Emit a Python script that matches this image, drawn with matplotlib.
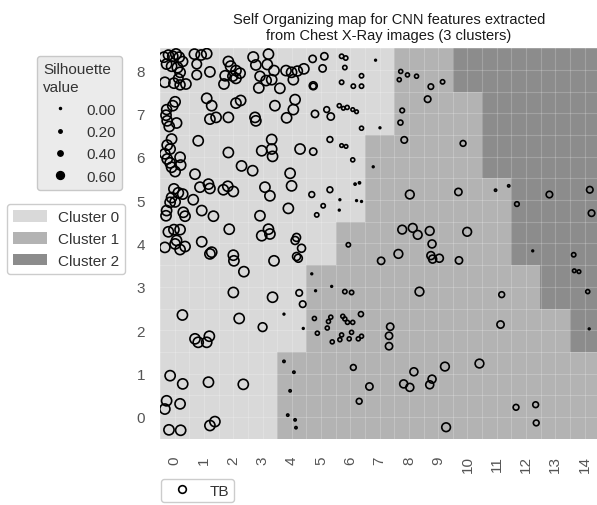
import numpy as np
import matplotlib
matplotlib.use("Agg")
import matplotlib.pyplot as plt
from matplotlib.colors import ListedColormap
from matplotlib.lines import Line2D
from matplotlib.patches import Patch

plt.rcParams['font.family'] = ['Liberation Sans', 'DejaVu Sans']

# cluster assigned to each SOM node, first row is y=0 (bottom), columns x=0..14
cluster_grid = [
    [0, 0, 0, 0, 1, 1, 1, 1, 1, 1, 1, 1, 1, 1, 1],
    [0, 0, 0, 0, 1, 1, 1, 1, 1, 1, 1, 1, 1, 1, 1],
    [0, 0, 0, 0, 0, 1, 1, 1, 1, 1, 1, 1, 1, 1, 2],
    [0, 0, 0, 0, 0, 1, 1, 1, 1, 1, 1, 1, 1, 2, 2],
    [0, 0, 0, 0, 0, 0, 1, 1, 1, 1, 1, 1, 2, 2, 2],
    [0, 0, 0, 0, 0, 0, 0, 1, 1, 1, 1, 1, 2, 2, 2],
    [0, 0, 0, 0, 0, 0, 0, 1, 1, 1, 1, 2, 2, 2, 2],
    [0, 0, 0, 0, 0, 0, 0, 0, 1, 1, 1, 2, 2, 2, 2],
    [0, 0, 0, 0, 0, 0, 0, 0, 1, 1, 2, 2, 2, 2, 2],
]
cluster_names = ['Cluster 0', 'Cluster 1', 'Cluster 2']
cluster_colors = ['#d9d9d9', '#b3b3b3', '#8c8c8c']

# jittered SOM coordinates of every TB image and its silhouette value
som_x = (
    [-0.37, -0.22, -0.07, 0.04, 0.15, 0.27, -0.28, -0.11, 0.09, 0.18, 0.12, -0.34, -0.03, 0.18, 0.38]
    + [0.67, 0.90, 1.09, 0.75, 0.75, 1.20, 1.83, 1.91, 2.09, 2.23, 1.72, 1.98, 2.09, 1.68]
    + [2.68, 3.20, 2.77, 3.16, 3.39, 2.91, 3.12, 3.31, 2.87, 3.59, 3.80, 3.99, 4.19, 4.41, 4.05]
    + [4.71, 5.11, 5.05, 4.73, 4.73, 5.70, 5.84, 5.81, 6.38, 5.70, 6.10, 6.38]
    + [0.01, -0.07, -0.28, -0.30, -0.26, 0.06, -0.19, 1.09, 1.26, 1.20, 1.41, 1.83, 2.09, 2.25, 2.74,
       2.77, 3.42, 3.82, 4.05, 4.11, 4.79, 5.19, 5.33, 5.62, 5.76, 5.89, 6.08, 6.21, 6.38]
    + [-0.11, -0.26, -0.16, -0.34, -0.26, -0.16, -0.11, 0.01, 0.18, 0.20, 0.80, 1.83, 2.97, 3.31,
       3.31, 3.34, 4.28, 4.73, 5.30, 5.70, 5.85, 6.08, 2.28, 2.66, 0.69, 3.94, 6.78]
    + [-0.03, 0.12, 0.27, -0.11, -0.16, 0.01, -0.28, -0.30, 0.86, 1.15, 1.20, 1.66, 1.81, 2.00, 0.63,
       0.92, 0.29, 0.35, 1.32, 3.08, 3.25, 3.99, 3.88, 4.68, 5.30, 5.07, 4.85, 5.64, 5.62, 6.21,
       6.38, 6.16, 6.31, 2.91]
    + [-0.22, -0.03, 0.18, 1.86, 3.20, 2.97, 3.25, -0.34, 0.01, 0.18, 0.35, 0.06, 0.92, 1.20, 1.26,
       2.00, 2.02, 2.36]
    + [4.16, 4.11, 4.33, 4.16, 4.22, 3.39, 2.00, 3.34, 4.25, 4.37, 5.93, 4.68, 4.81, 5.36, 5.81,
       6.04, 0.26, 2.20, 3.00, 3.73, 4.39]
    + [4.77, 5.33, 5.25, 5.21, 4.87, 5.74, 5.81, 5.90, 6.08, 6.36, 5.70, 6.04, 5.64, 5.96, 6.27,
       6.38, 5.38]
    + [0.69, 0.80, 1.09, 1.18, 3.73, 4.07, 3.94, 3.86, 4.11, 4.14, 6.10, 6.65, 6.30, -0.16, 0.27,
       1.15, 2.34, -0.28, -0.34, 0.18, 1.20, 1.37, -0.20, 0.20]
    + [6.86, 7.72, 7.95, 8.26, 7.67, 8.75, 9.15, 8.64, 7.77, 7.71, 7.01, 7.84, 9.85, 8.03, 9.69,
       10.96, 11.41, 11.69, 12.80, 14.18, 14.24, 7.77, 8.13, 8.30, 8.71, 9.99]
    + [8.79, 7.64, 7.05, 8.75, 8.81, 9.04, 9.71, 12.23, 13.63, 13.65, 13.81, 8.36, 11.17, 14.11, 7.36,
       7.32, 7.32, 11.13, 14.16, 8.17, 9.23, 10.41, 7.82, 8.03, 8.71, 8.79, 11.66, 12.33, 12.35, 9.27]
)
som_y = (
    [8.30, 8.35, 8.32, 8.37, 8.30, 8.20, 8.14, 8.09, 8.06, 7.95, 7.81, 7.72, 7.70, 7.66, 7.68]
    + [8.37, 8.35, 8.38, 8.14, 7.89, 7.96, 8.20, 8.09, 7.99, 7.93, 7.87, 7.86, 7.81, 7.68]
    + [8.30, 8.37, 8.12, 8.13, 7.99, 7.86, 7.76, 7.78, 7.59, 7.58, 7.99, 7.95, 7.98, 8.03, 7.78]
    + [8.26, 8.32, 8.04, 7.64, 7.63, 8.32, 8.28, 8.06, 7.87, 7.72, 7.63, 7.63]
    + [7.27, 7.18, 7.09, 6.96, 6.83, 6.78, 6.70, 7.35, 7.18, 6.87, 6.91, 6.91, 7.24, 7.30, 6.91,
       6.83, 7.18, 6.90, 7.09, 7.32, 6.99, 7.09, 6.93, 7.18, 7.12, 7.14, 7.09, 7.04, 6.66]
    + [6.41, 6.27, 6.18, 6.07, 5.95, 5.86, 5.76, 5.66, 5.99, 5.81, 6.37, 6.10, 6.14, 6.40,
       6.18, 6.01, 6.18, 6.12, 6.40, 6.26, 6.24, 5.93, 5.79, 5.68, 5.60, 5.62, 5.77]
    + [5.26, 5.17, 5.14, 5.06, 4.95, 4.96, 4.76, 4.64, 5.30, 5.37, 5.27, 5.24, 5.32, 5.20, 5.01,
       4.76, 4.72, 4.63, 4.63, 5.30, 5.10, 5.33, 4.81, 5.13, 5.24, 4.87, 4.66, 5.01, 4.77, 4.99,
       4.97, 5.37, 5.40, 4.64]
    + [4.27, 4.32, 4.32, 4.33, 4.33, 4.18, 4.22, 3.91, 3.99, 3.86, 3.93, 4.07, 4.04, 3.76, 3.80,
       3.73, 3.60, 3.35]
    + [4.14, 4.07, 3.89, 3.70, 3.66, 3.60, 2.87, 2.76, 2.86, 2.60, 3.97, 3.30, 2.91, 3.01, 2.89,
       2.87, 2.35, 2.27, 2.07, 2.37, 2.04]
    + [2.27, 2.30, 2.20, 2.05, 1.93, 2.32, 2.26, 2.18, 2.18, 2.37, 1.89, 1.95, 1.78, 1.80, 1.80,
       1.86, 1.73]
    + [1.80, 1.72, 1.72, 1.86, 1.28, 1.03, 0.60, 0.04, -0.07, -0.25, 1.14, 0.70, 0.36, 0.95, 0.76,
       0.80, 0.75, 0.37, 0.18, 0.30, -0.20, -0.11, -0.30, -0.31]
    + [8.23, 7.97, 7.89, 7.86, 7.78, 7.62, 7.73, 7.33, 7.07, 6.79, 6.67, 6.39, 6.31, 5.13, 5.19,
       5.23, 5.33, 4.91, 5.13, 5.24, 4.70, 4.32, 4.36, 4.20, 4.29, 4.27]
    + [3.99, 3.76, 3.60, 3.72, 3.64, 3.66, 3.61, 3.83, 3.74, 3.37, 3.35, 2.89, 2.82, 2.89, 2.08,
       1.87, 1.63, 2.13, 2.03, 1.04, 1.16, 1.23, 0.76, 0.68, 0.74, 0.87, 0.22, 0.28, -0.14, -0.24]
)
silhouette = (
    [0.6, 0.58, 0.6, 0.62, 0.6, 0.58, 0.6, 0.6, 0.62, 0.6, 0.55, 0.6, 0.6, 0.58, 0.6]
    + [0.6, 0.6, 0.6, 0.55, 0.55, 0.6, 0.6, 0.62, 0.6, 0.6, 0.6, 0.58, 0.6, 0.6]
    + [0.62, 0.6, 0.6, 0.6, 0.6, 0.58, 0.6, 0.6, 0.6, 0.6, 0.6, 0.6, 0.58, 0.6, 0.6]
    + [0.4, 0.4, 0.4, 0.45, 0.32, 0.2, 0.2, 0.2, 0.2, 0.2, 0.2, 0.2]
    + [0.6, 0.6, 0.58, 0.6, 0.6, 0.6, 0.6, 0.6, 0.6, 0.6, 0.6, 0.6, 0.6, 0.6, 0.6,
       0.6, 0.6, 0.6, 0.6, 0.6, 0.4, 0.3, 0.4, 0.18, 0.15, 0.18, 0.15, 0.15, 0.18]
    + [0.6, 0.6, 0.6, 0.6, 0.6, 0.6, 0.6, 0.6, 0.6, 0.6, 0.6, 0.6, 0.6, 0.6,
       0.6, 0.6, 0.6, 0.4, 0.3, 0.15, 0.15, 0.18, 0.6, 0.6, 0.6, 0.6, 0.02]
    + [0.6, 0.6, 0.6, 0.6, 0.6, 0.6, 0.6, 0.6, 0.6, 0.6, 0.6, 0.6, 0.6, 0.6, 0.6,
       0.6, 0.6, 0.6, 0.6, 0.6, 0.6, 0.6, 0.6, 0.3, 0.3, 0.2, 0.2, 0.02, 0.02, 0.02,
       0.02, 0.05, 0.05, 0.6]
    + [0.6, 0.6, 0.6, 0.6, 0.6, 0.6, 0.6, 0.6, 0.6, 0.6, 0.6, 0.6, 0.6, 0.6, 0.6,
       0.6, 0.6, 0.6]
    + [0.45, 0.45, 0.45, 0.45, 0.45, 0.6, 0.6, 0.6, 0.35, 0.35, 0.2, 0.02, 0.02, 0.02, 0.2,
       0.2, 0.6, 0.6, 0.5, 0.02, 0.02]
    + [0.18, 0.18, 0.18, 0.18, 0.18, 0.18, 0.18, 0.18, 0.18, 0.25, 0.18, 0.18, 0.18, 0.18, 0.18,
       0.18, 0.18]
    + [0.6, 0.6, 0.6, 0.6, 0.06, 0.06, 0.06, 0.06, 0.06, 0.06, 0.3, 0.4, 0.3, 0.6, 0.6,
       0.6, 0.6, 0.6, 0.6, 0.6, 0.6, 0.6, 0.6, 0.6]
    + [0.02, 0.18, 0.18, 0.18, 0.18, 0.28, 0.2, 0.35, 0.22, 0.25, 0.02, 0.35, 0.3, 0.5, 0.4,
       0.06, 0.06, 0.22, 0.35, 0.35, 0.35, 0.5, 0.5, 0.5, 0.5, 0.5]
    + [0.45, 0.5, 0.4, 0.45, 0.45, 0.45, 0.4, 0.02, 0.2, 0.15, 0.15, 0.5, 0.3, 0.18, 0.4,
       0.4, 0.4, 0.4, 0.02, 0.45, 0.5, 0.5, 0.45, 0.45, 0.45, 0.45, 0.3, 0.3, 0.3, 0.5]
)
assert len(som_x) == len(som_y) == len(silhouette)

size_levels = [0.0, 0.2, 0.4, 0.6]


def marker_area(sil):
    # marker diameter grows linearly with the silhouette value
    return (1 + 10.5 * np.asarray(sil)) ** 2


fig = plt.figure(figsize=(5.97, 5.06), dpi=100)
ax = fig.add_axes([0.2683, 0.1314, 0.7353, 0.7708])

ax.imshow(np.array(cluster_grid), origin='lower', extent=(-0.5, 14.5, -0.5, 8.5),
          cmap=ListedColormap(cluster_colors), vmin=-0.5, vmax=2.5,
          aspect='auto', interpolation='nearest', zorder=0)

# faint lines on node centres and node borders
for v in np.arange(-0.5, 14.51, 0.5):
    ax.axvline(v, color='white', alpha=0.2, lw=0.8, zorder=1)
for v in np.arange(-0.5, 8.51, 0.5):
    ax.axhline(v, color='white', alpha=0.2, lw=0.8, zorder=1)

ax.scatter(som_x, som_y, s=marker_area(silhouette), facecolors='none',
           edgecolors='black', linewidths=1.2, zorder=3)

ax.set_xlim(-0.5, 14.5)
ax.set_ylim(-0.5, 8.5)
ax.set_xticks(range(15))
ax.set_xticklabels([str(i) for i in range(15)], rotation=90)
ax.set_yticks(range(9))
ax.tick_params(axis='x', length=0, pad=12, labelsize=11, labelcolor='#555555')
ax.tick_params(axis='y', length=0, pad=11, labelsize=11, labelcolor='#555555')
for sp in ax.spines.values():
    sp.set_visible(False)

ax.set_title("Self Organizing map for CNN features extracted\nfrom Chest X-Ray images (3 clusters)",
             fontsize=10.5, color='#1a1a1a', x=0.521, pad=7)

# legends
size_handles = [Line2D([], [], marker='o', ls='', color='black',
                       markersize=1.5 + 4 * v + 5 * v ** 2) for v in size_levels]
size_leg = fig.legend(size_handles, [f"{v:.2f}" for v in size_levels],
                      title='Silhouette\nvalue', loc='upper left', bbox_to_anchor=(0.062, 0.887),
                      facecolor='#ebebeb', edgecolor='#c8c8c8', framealpha=1,
                      fontsize=11, title_fontsize=11, alignment='left',
                      handlelength=2.2, handletextpad=0.6, borderaxespad=0,
                      labelspacing=0.55, borderpad=0.4, labelcolor='#333333')
size_leg.get_title().set_color('#333333')
size_leg.get_title().set_linespacing(1.35)

cluster_handles = [Patch(facecolor=c, edgecolor='none') for c in cluster_colors]
fig.legend(cluster_handles, cluster_names, loc='upper left', bbox_to_anchor=(0.0117, 0.595),
           facecolor='white', edgecolor='#cccccc', framealpha=1, fontsize=11,
           handlelength=2.2, handleheight=0.8, handletextpad=0.75, borderaxespad=0,
           labelspacing=0.5, borderpad=0.4, labelcolor='#333333')

tb_handle = Line2D([], [], marker='o', ls='', markerfacecolor='none',
                   markeredgecolor='black', markersize=5.5, markeredgewidth=1.2)
fig.legend([tb_handle], ['TB'], loc='upper left', bbox_to_anchor=(0.2697, 0.0514),
           facecolor='white', edgecolor='#cccccc', framealpha=1, fontsize=11,
           handlelength=2.2, handletextpad=0.7, borderaxespad=0, borderpad=0.3,
           labelcolor='#333333')

fig.savefig('out.png', dpi=100)
